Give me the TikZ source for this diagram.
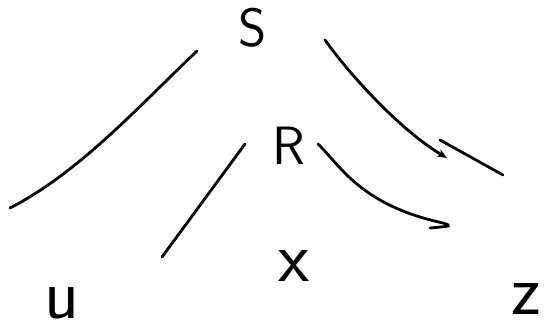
\documentclass[tikz,border=0pt]{standalone}
\usepackage{fontspec}
\usepackage{tikz}
\usetikzlibrary{arrows.meta}

\begin{document}
\begin{tikzpicture}[
  x=1pt, y=-1pt,
  upper/.style={inner sep=0pt, font=\fontsize{54}{54}\selectfont\sffamily},
  lower/.style={inner sep=0pt, font=\fontsize{72}{72}\selectfont\sffamily},
  stroke/.style={line width=2.8pt, line cap=round, black},
  arr/.style={stroke, -{Stealth[length=10pt, width=8pt]}},
]
  \useasboundingbox (0,0) rectangle (547,335);

  % Letters
  \node[upper] (S) at (253,28) {S};
  \node[upper] (R) at (289,146) {R};
  \node[lower] (u) at (62,303) {u};
  \node[lower] (x) at (294,266) {x};
  \node[lower] (z) at (526,299) {z};

  % Stroke ends
  \coordinate (Su) at (197,51);
  \coordinate (uS) at (10,208);
  \coordinate (Sz) at (325,40);
  \coordinate (zS) at (447,158);
  \coordinate (za) at (440,140);
  \coordinate (zb) at (503,175);
  \coordinate (Rx) at (245,144);
  \coordinate (xR) at (162,257);
  \coordinate (Rz) at (318,144);
  \coordinate (zR) at (443,223);

  % Strokes from S
  \draw[stroke] (Su) .. controls (140,105) and (80,172) .. (uS);
  \draw[arr] (Sz) .. controls (350,75) and (400,130) .. (zS);
  \draw[stroke] (za) -- (zb);

  % Strokes from R
  \draw[stroke] (Rx) -- (xR);
  \draw[stroke] (Rz) .. controls (340,165) and (360,205) .. (zR)
    .. controls (452,226) .. (430,228);
\end{tikzpicture}
\end{document}
